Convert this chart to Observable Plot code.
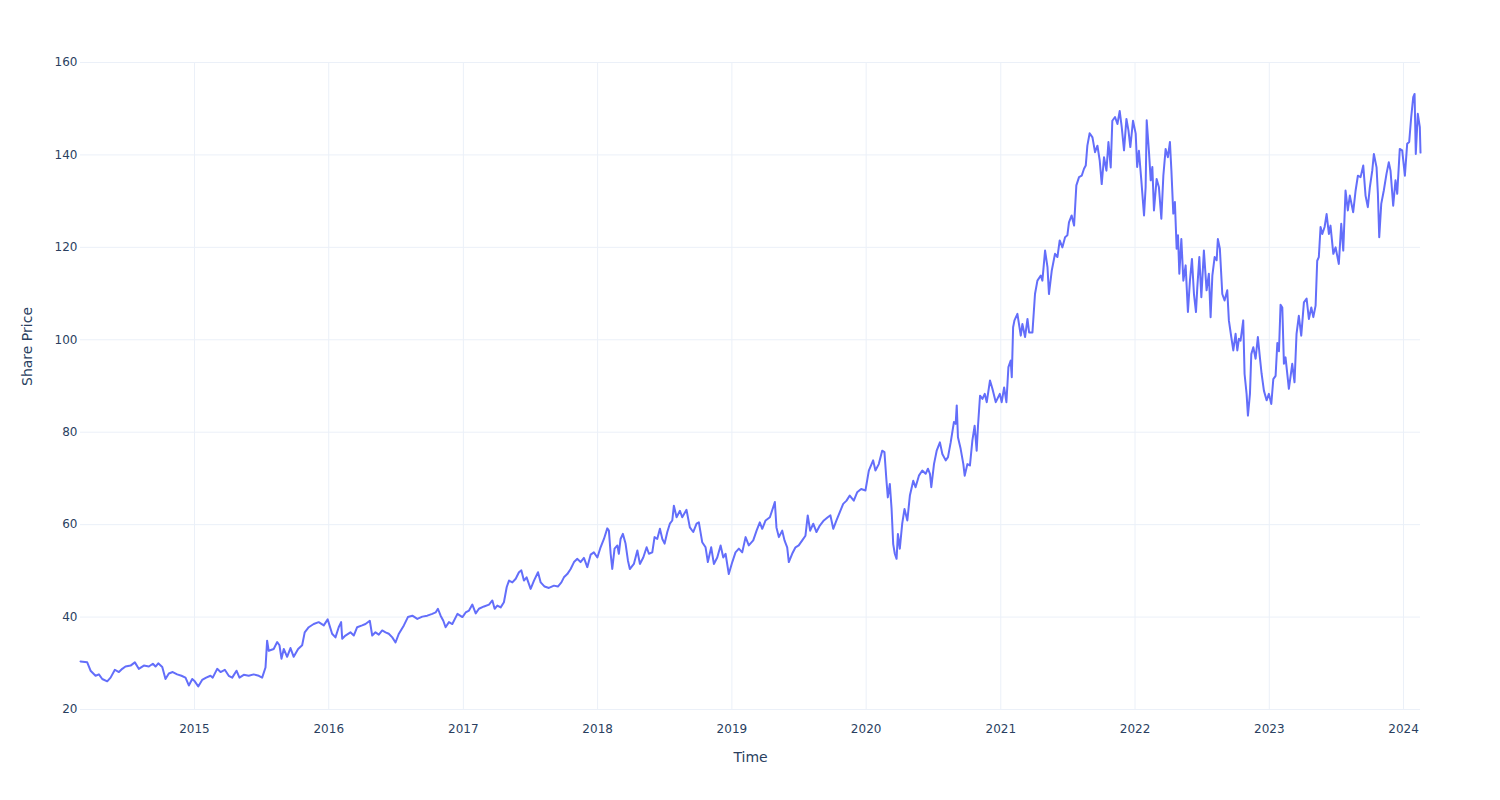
<!DOCTYPE html>
<html><head><meta charset="utf-8">
<script src="https://cdn.jsdelivr.net/npm/d3@7"></script>
<script src="https://cdn.jsdelivr.net/npm/@observablehq/plot@0.6"></script>
<style>body{margin:0;background:#fff;font-family:"DejaVu Sans",sans-serif}</style>
</head><body><div id="chart"></div>
<script>
// Fractional calendar years (time) and share prices
const years = [
2014.151,2014.201,2014.226,2014.263,2014.288,2014.313,2014.350,2014.375,2014.407,2014.437,2014.462,2014.486,2014.524,2014.556,2014.585,2014.623,2014.660,2014.690,2014.710,2014.730,2014.760,2014.784,2014.809,2014.838,2014.871,2014.903,2014.933,2014.958,2014.983,
2015.002,2015.028,2015.057,2015.087,2015.119,2015.136,2015.169,2015.194,2015.226,2015.255,2015.281,2015.313,2015.335,2015.367,2015.404,2015.441,2015.479,2015.504,2015.529,2015.541,2015.553,2015.590,2015.616,2015.633,2015.648,2015.665,2015.690,2015.715,2015.739,2015.772,2015.802,2015.821,2015.851,2015.888,2015.925,2015.963,2015.992,
2016.025,2016.050,2016.074,2016.092,2016.100,2016.124,2016.161,2016.186,2016.211,2016.248,2016.273,2016.305,2016.323,2016.347,2016.372,2016.397,2016.422,2016.446,2016.472,2016.496,2016.521,2016.558,2016.588,2016.621,2016.658,2016.695,2016.732,2016.769,2016.794,2016.811,2016.831,2016.851,2016.868,2016.893,2016.918,2016.956,2016.993,
2017.017,2017.042,2017.067,2017.092,2017.116,2017.154,2017.191,2017.216,2017.233,2017.253,2017.278,2017.302,2017.323,2017.340,2017.365,2017.390,2017.414,2017.432,2017.451,2017.471,2017.501,2017.526,2017.556,2017.576,2017.605,2017.637,2017.675,2017.704,2017.730,2017.749,2017.774,2017.799,2017.824,2017.849,2017.873,2017.898,2017.923,2017.948,2017.972,2017.998,
2018.022,2018.047,2018.072,2018.084,2018.097,2018.109,2018.126,2018.147,2018.158,2018.171,2018.188,2018.208,2018.226,2018.240,2018.270,2018.296,2018.315,2018.340,2018.365,2018.382,2018.407,2018.424,2018.444,2018.464,2018.482,2018.499,2018.519,2018.538,2018.556,2018.568,2018.588,2018.613,2018.630,2018.662,2018.687,2018.712,2018.737,2018.754,2018.779,2018.804,2018.821,2018.846,2018.866,2018.891,2018.916,2018.936,2018.953,2018.977,
2019.003,2019.027,2019.052,2019.077,2019.102,2019.126,2019.159,2019.184,2019.208,2019.226,2019.251,2019.283,2019.308,2019.320,2019.332,2019.350,2019.375,2019.392,2019.412,2019.424,2019.449,2019.474,2019.498,2019.524,2019.548,2019.565,2019.583,2019.606,2019.630,2019.655,2019.685,2019.714,2019.734,2019.755,2019.779,2019.804,2019.829,2019.854,2019.878,2019.908,2019.933,2019.963,2019.995,
2020.020,2020.052,2020.069,2020.094,2020.119,2020.136,2020.151,2020.161,2020.176,2020.189,2020.201,2020.213,2020.226,2020.236,2020.250,2020.268,2020.285,2020.306,2020.325,2020.350,2020.367,2020.392,2020.417,2020.442,2020.459,2020.474,2020.484,2020.504,2020.524,2020.548,2020.566,2020.591,2020.608,2020.628,2020.652,2020.665,2020.673,2020.682,2020.702,2020.722,2020.732,2020.752,2020.771,2020.789,2020.806,2020.821,2020.831,2020.846,2020.864,2020.881,2020.896,2020.920,2020.938,2020.963,2020.993,
2021.007,2021.025,2021.042,2021.057,2021.074,2021.082,2021.092,2021.102,2021.124,2021.149,2021.161,2021.181,2021.199,2021.211,2021.236,2021.255,2021.273,2021.298,2021.310,2021.330,2021.348,2021.359,2021.380,2021.404,2021.422,2021.439,2021.459,2021.479,2021.496,2021.508,2021.528,2021.546,2021.563,2021.583,2021.603,2021.620,2021.633,2021.645,2021.662,2021.683,2021.702,2021.720,2021.737,2021.752,2021.769,2021.787,2021.802,2021.819,2021.831,2021.851,2021.869,2021.886,2021.901,2021.918,2021.936,2021.951,2021.965,2021.985,
2022.005,2022.016,2022.029,2022.047,2022.067,2022.079,2022.087,2022.104,2022.117,2022.129,2022.141,2022.161,2022.178,2022.196,2022.211,2022.228,2022.245,2022.260,2022.271,2022.285,2022.297,2022.310,2022.320,2022.330,2022.345,2022.360,2022.377,2022.394,2022.409,2022.424,2022.439,2022.454,2022.464,2022.479,2022.494,2022.513,2022.533,2022.550,2022.563,2022.576,2022.593,2022.608,2022.617,2022.632,2022.650,2022.667,2022.687,2022.699,2022.717,2022.732,2022.749,2022.762,2022.774,2022.786,2022.806,2022.816,2022.831,2022.841,2022.856,2022.866,2022.881,2022.898,2022.915,2022.930,2022.943,2022.960,2022.980,2022.997,
2023.015,2023.030,2023.047,2023.060,2023.072,2023.084,2023.097,2023.109,2023.121,2023.146,2023.171,2023.188,2023.203,2023.220,2023.238,2023.258,2023.278,2023.295,2023.313,2023.328,2023.345,2023.357,2023.369,2023.382,2023.395,2023.412,2023.427,2023.444,2023.456,2023.477,2023.494,2023.518,2023.536,2023.551,2023.568,2023.585,2023.600,2023.625,2023.643,2023.660,2023.680,2023.700,2023.717,2023.734,2023.749,2023.767,2023.779,2023.799,2023.809,2023.819,2023.834,2023.853,2023.873,2023.890,2023.903,2023.923,2023.940,2023.953,2023.972,2023.990,
2024.010,2024.027,2024.042,2024.057,2024.072,2024.082,2024.091,2024.106,2024.121,2024.126
];
const prices = [
30.4,30.2,28.4,27.3,27.6,26.6,26.1,26.9,28.6,28.1,28.8,29.3,29.5,30.2,28.8,29.5,29.3,29.9,29.3,30.0,29.2,26.6,27.8,28.1,27.6,27.3,26.9,25.2,26.6,
26.1,25.0,26.4,26.9,27.3,26.9,28.8,28.1,28.6,27.3,26.9,28.4,26.9,27.5,27.3,27.6,27.3,26.9,29.1,34.9,32.7,33.1,34.6,33.9,31.0,33.1,31.4,33.3,31.4,33.1,33.9,36.7,37.8,38.5,38.9,38.2,39.5,
36.4,35.6,37.8,38.9,35.3,36.0,36.7,36.0,37.8,38.2,38.5,39.2,36.0,36.7,36.2,37.1,36.7,36.4,35.6,34.5,36.4,38.2,40.0,40.3,39.6,40.1,40.3,40.7,41.0,41.8,40.3,39.2,37.8,38.9,38.5,40.7,40.0,
41.0,41.4,42.7,40.8,41.8,42.3,42.7,43.6,41.8,42.5,42.1,43.2,46.5,47.9,47.5,48.3,49.7,50.1,47.9,48.6,46.1,47.9,49.7,47.5,46.6,46.3,46.8,46.6,47.5,48.6,49.3,50.4,51.9,52.6,51.9,52.8,50.8,53.5,54.0,52.9,
55.1,56.9,59.2,58.7,53.7,50.4,54.8,55.5,53.7,56.9,58.0,55.9,52.2,50.4,51.5,54.4,51.5,52.9,55.1,53.7,54.0,57.3,56.9,59.1,56.9,55.9,58.4,60.2,60.9,64.1,61.6,63.0,61.6,63.2,59.4,58.4,60.2,60.5,56.2,55.1,51.9,55.1,51.5,52.9,55.5,52.9,53.7,49.3,
51.9,54.0,54.8,54.0,57.3,55.5,56.6,58.7,60.5,59.1,60.9,61.6,63.8,64.9,59.4,57.3,58.7,56.6,55.1,51.9,53.7,55.1,55.5,56.6,57.6,62.0,58.7,60.2,58.4,59.8,60.9,61.6,62.0,59.1,60.9,62.7,64.5,65.2,66.3,65.2,67.0,67.7,67.4,
71.7,73.9,71.7,73.1,76.0,75.7,69.5,65.9,68.8,63.4,55.8,53.7,52.6,58.0,54.8,60.2,63.4,60.9,66.3,69.5,68.1,70.6,71.7,71.0,72.1,71.0,68.1,73.1,76.0,77.8,75.3,73.9,74.6,77.8,82.2,81.8,85.8,78.9,76.4,73.1,70.6,73.1,72.8,78.2,81.4,76.0,81.4,87.9,87.2,88.3,86.5,91.2,89.4,86.5,88.3,
86.5,89.7,86.5,94.1,95.5,91.9,102.7,104.2,105.6,100.9,103.4,100.6,104.5,101.6,101.6,109.9,112.8,113.9,112.8,119.3,115.7,109.9,115.0,118.6,117.9,121.5,120.0,122.2,122.6,125.4,126.9,124.7,133.4,135.2,135.5,137.0,137.7,142.0,144.7,143.8,140.6,142.0,138.8,133.7,139.5,136.6,142.8,137.3,147.4,148.2,146.7,149.5,146.0,141.0,147.8,145.3,141.7,147.4,
144.6,137.4,140.9,134.5,126.9,133.0,147.5,140.6,134.5,137.4,128.0,134.8,133.0,126.2,135.5,141.3,139.5,142.8,136.6,127.3,129.8,119.7,122.6,114.3,121.8,112.8,116.1,106.0,112.8,117.5,109.9,106.0,111.4,117.9,109.2,119.3,110.7,114.3,104.9,113.9,117.9,117.2,121.8,119.7,109.9,108.5,110.7,104.2,100.6,97.7,101.3,97.7,100.2,99.8,104.2,92.6,88.3,83.6,88.3,96.9,98.4,95.9,100.6,96.2,92.6,89.0,86.9,88.3,
86.1,91.5,92.2,99.3,97.5,107.6,107.0,94.8,96.2,89.4,94.8,90.8,101.3,105.2,100.9,108.1,108.9,104.5,107.0,104.9,107.4,117.1,117.9,124.4,122.9,124.4,127.2,122.9,124.7,118.6,120.0,116.4,125.1,119.3,132.3,128.0,131.2,127.6,132.3,135.5,135.2,137.7,131.2,128.7,133.0,136.6,140.2,137.3,131.6,122.2,129.4,132.3,135.9,138.4,136.6,129.0,134.5,131.6,141.3,141.0,
135.5,142.4,142.8,148.2,152.5,153.2,140.2,148.9,146.0,140.5
];
const yTicks = [20, 40, 60, 80, 100, 120, 140, 160];
const xTickYears = [2015, 2016, 2017, 2018, 2019, 2020, 2021, 2022, 2023, 2024];

function toDate(t) {
  const yr = Math.floor(t);
  const s = Date.UTC(yr, 0, 1), e = Date.UTC(yr + 1, 0, 1);
  return new Date(s + (t - yr) * (e - s));
}
const data = years.map((t, i) => ({date: toDate(t), price: prices[i]}));
const xTicks = xTickYears.map(y => new Date(Date.UTC(y, 0, 1)));

const chart = Plot.plot({
  width: 1500,
  height: 800,
  marginLeft: 80,
  marginRight: 80,
  marginTop: 62,
  marginBottom: 91,
  style: {fontFamily: '"DejaVu Sans", Verdana, sans-serif', fontSize: "12px", color: "#2a3f5f", background: "#ffffff"},
  x: {type: "utc", domain: d3.extent(data, d => d.date)},
  y: {domain: [20, 160]},
  marks: [
    Plot.gridX(xTicks, {stroke: "#ebf0f8", strokeOpacity: 1, strokeWidth: 1}),
    Plot.gridY(yTicks, {stroke: "#ebf0f8", strokeOpacity: 1, strokeWidth: 1}),
    Plot.axisX(xTicks, {tickSize: 0, tickPadding: 15, tickFormat: d3.utcFormat("%Y"), label: null}),
    Plot.axisY(yTicks, {tickSize: 0, tickPadding: 3, label: null}),
    Plot.line(data, {x: "date", y: "price", stroke: "#636efa", strokeWidth: 2}),
    Plot.text(["Time"], {text: d => d, frameAnchor: "bottom", dy: 52, fontSize: 14, fill: "#2a3f5f"}),
    Plot.text(["Share Price"], {text: d => d, frameAnchor: "left", dx: -53, rotate: -90, fontSize: 14, fill: "#2a3f5f"})
  ]
});
document.getElementById("chart").appendChild(chart);
</script>
</body></html>
